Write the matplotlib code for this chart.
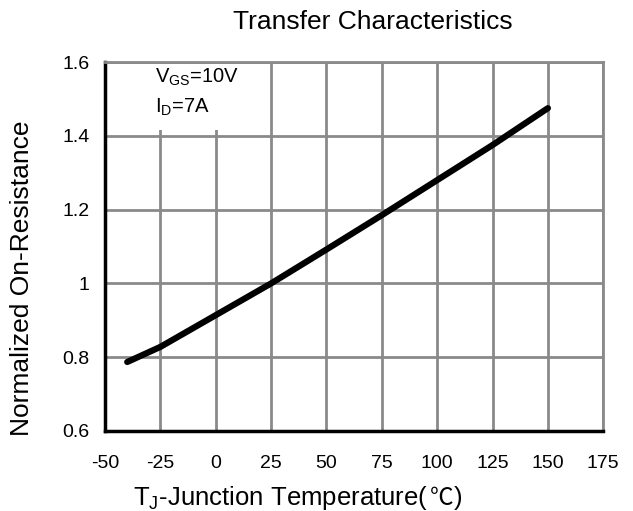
import matplotlib
matplotlib.use("Agg")
import matplotlib.pyplot as plt
from matplotlib.patches import Rectangle

plt.rcParams["font.family"] = ["Liberation Sans", "DejaVu Sans"]
plt.rcParams["axes.unicode_minus"] = False
plt.rcParams["mathtext.fontset"] = "custom"
plt.rcParams["mathtext.rm"] = "Liberation Sans"

temp = [-40, -25, 0, 25, 50, 75, 100, 125, 150]
rds_norm = [0.787, 0.828, 0.914, 1.0, 1.092, 1.185, 1.28, 1.375, 1.475]
x_ticks = [-50, -25, 0, 25, 50, 75, 100, 125, 150, 175]
y_ticks = [0.6, 0.8, 1.0, 1.2, 1.4, 1.6]
y_labels = ["0.6", "0.8", "1", "1.2", "1.4", "1.6"]

fig = plt.figure(figsize=(6.33, 5.11), dpi=100)
ax = fig.add_axes([0.166, 0.1566, 0.787, 0.722])

ax.set_xlim(-50, 175)
ax.set_ylim(0.6, 1.6)
ax.set_xticks(x_ticks)
ax.set_yticks(y_ticks)
ax.set_yticklabels(y_labels)
ax.grid(True, color="#8a8a8a", linewidth=2.0)
ax.set_axisbelow(True)
ax.tick_params(length=0, labelsize=14)
ax.tick_params(axis="x", pad=17)
ax.tick_params(axis="y", pad=11)

for side in ["top", "right"]:
    ax.spines[side].set_color("#8a8a8a")
    ax.spines[side].set_linewidth(2.0)
for side in ["left", "bottom"]:
    ax.spines[side].set_color("black")
    ax.spines[side].set_linewidth(2.5)

# white box behind the condition text
ax.add_patch(Rectangle((-49, 1.415), 61, 0.18, facecolor="white",
                       edgecolor="none", zorder=1.5))
ax.text(-27.5, 1.543, "V$_{\\mathregular{GS}}$=10V", fontsize=14.5, zorder=3)
ax.text(-27.5, 1.462, "I$_{\\mathregular{D}}$=7A", fontsize=14.5, zorder=3)

ax.plot(temp, rds_norm, color="black", linewidth=4.5,
        solid_capstyle="round", zorder=4)

fig.text(0.589, 0.957, "Transfer Characteristics", ha="center",
         va="center", fontsize=19)
fig.text(0.035, 0.456, "Normalized On-Resistance", rotation=90,
         ha="center", va="center", fontsize=19)

# x label: degree-celsius sign comes from a CJK font
base_y = 0.012
xl = fig.text(0.21, base_y, "T$_{\\mathregular{J}}$-Junction Temperature(",
              fontsize=18.5, ha="left", va="baseline")
fig.canvas.draw()
bb = xl.get_window_extent().transformed(fig.transFigure.inverted())
cel = fig.text(bb.x1 + 0.003, base_y, "℃", fontsize=17, ha="left",
               va="baseline", family=["Noto Sans CJK SC", "DejaVu Sans"])
fig.canvas.draw()
cb = cel.get_window_extent().transformed(fig.transFigure.inverted())
fig.text(cb.x1, base_y, ")", fontsize=18.5, ha="left", va="baseline")

fig.savefig("out.png", dpi=100)
